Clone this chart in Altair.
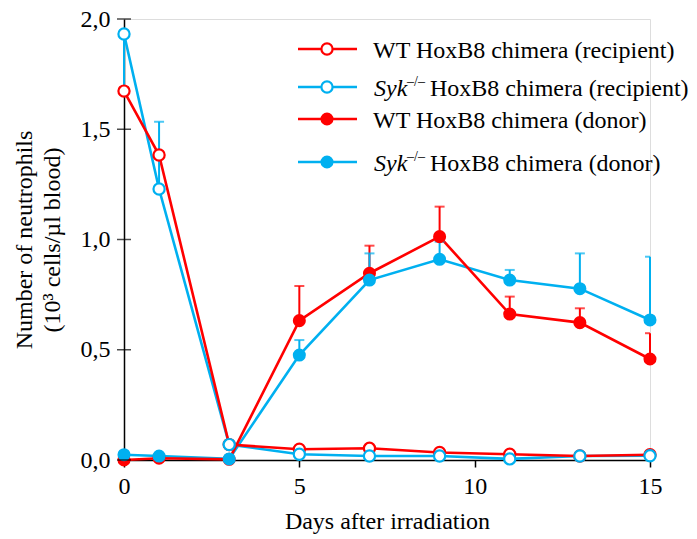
import altair as alt
import pandas as pd

# ---- data -------------------------------------------------------------
days = [0, 1, 3, 5, 7, 9, 11, 13, 15]

wt_recipient = [1.673, 1.383, 0.070, 0.049, 0.053, 0.034, 0.026, 0.018, 0.024]
syk_recipient = [1.932, 1.229, 0.070, 0.026, 0.018, 0.018, 0.005, 0.018, 0.019]
wt_donor = [0.000, 0.008, 0.003, 0.632, 0.847, 1.013, 0.662, 0.623, 0.458]
syk_donor = [0.024, 0.018, 0.005, 0.476, 0.816, 0.910, 0.816, 0.777, 0.635]

# end point of each error bar (None = no bar shown)
wt_recipient_err = [None, None, None, None, None, None, None, None, None]
syk_recipient_err = [1.690, 1.534, None, None, None, None, None, None, None]
wt_donor_err = [None, None, None, 0.789, 0.972, 1.149, 0.741, 0.688, 0.575]
syk_donor_err = [None, None, None, 0.544, 0.937, 0.990, 0.862, 0.937, 0.922]

x_ticks = [0, 5, 10, 15]
y_ticks = [0.0, 0.5, 1.0, 1.5, 2.0]

RED = "#FF0000"
CYAN = "#00B0F0"
FONT = "Liberation Serif"

series_names = ["wt_rec", "syk_rec", "wt_don", "syk_don"]
series_colors = [RED, CYAN, RED, CYAN]

rows = []
for name, vals, errs in [
    ("wt_rec", wt_recipient, wt_recipient_err),
    ("syk_rec", syk_recipient, syk_recipient_err),
    ("wt_don", wt_donor, wt_donor_err),
    ("syk_don", syk_donor, syk_donor_err),
]:
    for d, v, e in zip(days, vals, errs):
        rows.append({"series": name, "day": d, "value": v, "err": e})
df = pd.DataFrame(rows)

# ---- scales / encodings ----------------------------------------------
xscale = alt.Scale(domain=[0, 15], nice=False, zero=False)
yscale = alt.Scale(domain=[0, 2], nice=False)
cscale = alt.Scale(domain=series_names, range=series_colors)

X = alt.X(
    "day:Q",
    scale=xscale,
    axis=alt.Axis(
        values=x_ticks,
        grid=False,
        domainColor="black",
        domainWidth=1.5,
        tickColor="black",
        tickWidth=1.5,
        tickSize=7,
        labelFontSize=24,
        labelFont=FONT,
        labelColor="black",
        labelPadding=7,
        labelFlush=False,
        title="Days after irradiation",
        titleFont=FONT,
        titleFontSize=24,
        titleFontWeight="normal",
        titleColor="black",
        titlePadding=11,
    ),
)
Y = alt.Y(
    "value:Q",
    scale=yscale,
    axis=alt.Axis(
        values=y_ticks,
        labelExpr="replace(format(datum.value, '.1f'), '.', ',')",
        grid=False,
        ticks=False,
        domainColor="black",
        domainWidth=1.5,
        labelFontSize=24,
        labelFont=FONT,
        labelColor="black",
        labelPadding=14,
        title=["Number of neutrophils", "(10³ cells/µl blood)"],
        titleFont=FONT,
        titleFontSize=24,
        titleFontWeight="normal",
        titleColor="black",
        titleLineHeight=28,
        titlePadding=16,
    ),
)
C = alt.Color("series:N", scale=cscale, legend=None)
S = alt.Stroke("series:N", scale=cscale, legend=None)

base = alt.Chart(df)


def only(*names):
    cond = " || ".join(f"datum.series == '{n}'" for n in names)
    return base.transform_filter(cond)


# connecting lines (blue first so red crosses over it)
lines_syk = only("syk_rec", "syk_don").mark_line(strokeWidth=2.6).encode(x=X, y=Y, color=C)
lines_wt = only("wt_rec", "wt_don").mark_line(strokeWidth=2.6).encode(x=X, y=Y, color=C)

# error bars with caps
err_base = base.transform_filter("isValid(datum.err)")
err_rules = err_base.mark_rule(strokeWidth=2).encode(
    x=X, y=Y, y2=alt.Y2("err:Q"), color=C
)
err_caps = err_base.mark_tick(orient="horizontal", size=10, thickness=2, clip=True).encode(
    x=X, y=alt.Y("err:Q", scale=yscale), color=C
)

# point markers
OPEN_SIZE = 125
FILLED_SIZE = 170
open_wt = only("wt_rec").mark_point(
    filled=True, fill="white", strokeWidth=2.2, size=OPEN_SIZE, opacity=1
).encode(x=X, y=Y, stroke=S)
filled_wt = only("wt_don").mark_circle(size=FILLED_SIZE, opacity=1).encode(x=X, y=Y, color=C)
open_syk = only("syk_rec").mark_point(
    filled=True, fill="white", strokeWidth=2.2, size=OPEN_SIZE, opacity=1
).encode(x=X, y=Y, stroke=S)
filled_syk = only("syk_don").mark_circle(size=FILLED_SIZE, opacity=1).encode(x=X, y=Y, color=C)

# y-axis ticks that cross the axis line
ytick_marks = alt.Chart(pd.DataFrame({"v": y_ticks})).mark_tick(
    orient="horizontal", size=14, thickness=1.5, color="black", clip=False
).encode(x=alt.value(0), y=alt.Y("v:Q", scale=yscale))

# ---- legend --------------------------------------------------------------
legend_entries = [
    # (color, filled, italic part, rest of label)
    (RED, False, "", "WT HoxB8 chimera (recipient)"),
    (CYAN, False, "Syk", "HoxB8 chimera (recipient)"),
    (RED, True, "", "WT HoxB8 chimera (donor)"),
    (CYAN, True, "Syk", "HoxB8 chimera (donor)"),
]
row_y = [49, 87, 119, 162]
one = pd.DataFrame({"k": [0]})
legend_layers = []
for (col, filled, ital, rest), yy in zip(legend_entries, row_y):
    yl = yy - 19  # chart area starts at the top padding
    legend_layers.append(
        alt.Chart(one).mark_rule(color=col, strokeWidth=2.6).encode(
            x=alt.value(298 - 124), x2=alt.value(357 - 124), y=alt.value(yl)
        )
    )
    if filled:
        legend_layers.append(
            alt.Chart(one).mark_circle(color=col, size=FILLED_SIZE, opacity=1).encode(
                x=alt.value(327 - 124), y=alt.value(yl)
            )
        )
    else:
        legend_layers.append(
            alt.Chart(one).mark_point(
                filled=True, fill="white", stroke=col, strokeWidth=2.2, size=OPEN_SIZE, opacity=1
            ).encode(x=alt.value(327 - 124), y=alt.value(yl))
        )
    base_y = yl + 9
    if ital:
        legend_layers.append(
            alt.Chart(one).mark_text(
                text=ital, font=FONT, fontSize=24, fontStyle="italic",
                align="left", baseline="alphabetic", color="black",
            ).encode(x=alt.value(374 - 124), y=alt.value(base_y))
        )
        legend_layers.append(
            alt.Chart(one).mark_text(
                text="–/–", font=FONT, fontSize=14,
                align="left", baseline="alphabetic", color="black",
            ).encode(x=alt.value(407 - 124), y=alt.value(base_y - 10))
        )
        legend_layers.append(
            alt.Chart(one).mark_text(
                text=rest, font=FONT, fontSize=24,
                align="left", baseline="alphabetic", color="black",
            ).encode(x=alt.value(430 - 124), y=alt.value(base_y))
        )
    else:
        legend_layers.append(
            alt.Chart(one).mark_text(
                text=rest, font=FONT, fontSize=24,
                align="left", baseline="alphabetic", color="black",
            ).encode(x=alt.value(373 - 124), y=alt.value(base_y))
        )

chart = alt.layer(
    lines_syk,
    lines_wt,
    err_rules,
    err_caps,
    open_wt,
    filled_wt,
    open_syk,
    filled_syk,
    ytick_marks,
    *legend_layers,
).properties(
    width=526,
    height=441,
    autosize=alt.AutoSizeParams(type="none"),
    padding={"left": 124, "top": 19, "right": 47, "bottom": 79},
    background="white",
).configure_view(stroke=None).configure(font=FONT)

chart.save("out.html", embed_options={"renderer": "svg", "actions": False})
